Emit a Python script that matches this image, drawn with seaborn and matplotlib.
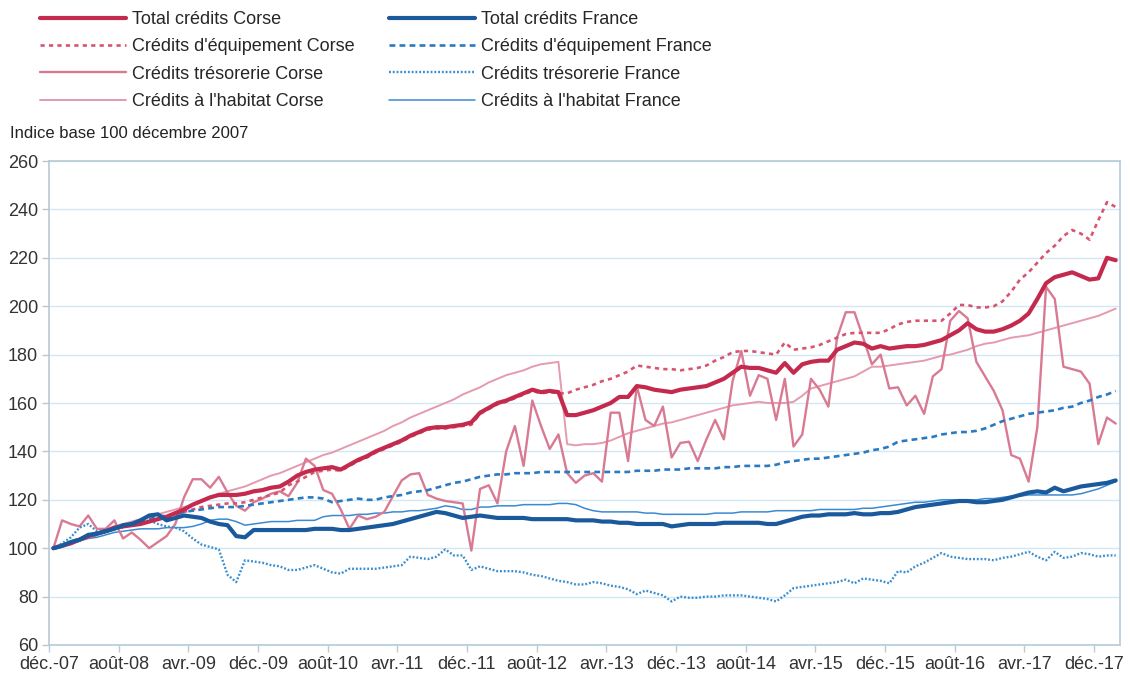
import pandas as pd
import seaborn as sns
import matplotlib.pyplot as plt

# indices base 100 decembre 2007, monthly from dec-07 to feb-18
total_corse = [100, 101, 102, 103.5, 105, 106, 107, 108.5, 109, 109.5,
               110, 111, 112, 113, 114.5, 116, 118, 119.5, 121, 122,
               122, 122, 122.5, 123.5, 124, 125, 125.5, 127.5, 130, 131.5,
               132.5, 133, 133.5, 132.5, 134.5, 136.5, 138, 140, 141.5, 143,
               144.5, 146.5, 148, 149.5, 150, 150, 150.5, 151, 152, 156,
               158, 160, 161, 162.5, 164, 165.5, 164.5, 165, 164.5, 155,
               155, 156, 157, 158.5, 160, 162.5, 162.5, 167, 166.5, 165.5,
               165, 164.5, 165.5, 166, 166.5, 167, 168.5, 170, 172.5, 175,
               174.5, 174.5, 173.5, 172.5, 176.5, 172.5, 176, 177, 177.5, 177.5,
               182, 183.5, 185, 184.5, 182.5, 183.5, 182.5, 183, 183.5, 183.5,
               184, 185, 186, 188, 190, 193, 190.5, 189.5, 189.5, 190.5,
               192, 194, 197, 203, 209.5, 212, 213, 214, 212.5, 211,
               211.5, 220, 219]

equip_corse = [100, 101, 102, 103.5, 104.5, 105.5, 107, 108, 109, 109.5,
               110, 111, 112, 112.5, 113.5, 115, 116, 117, 117.5, 118,
               118.5, 118.5, 119, 120, 121, 122, 123, 126, 127.5, 129.5,
               131.5, 132, 132.5, 132, 134, 136, 137.5, 139.5, 141, 142.5,
               144, 146, 147.5, 149, 149.5, 149.5, 150, 150.5, 151, 155.5,
               157.5, 159.5, 160.5, 162, 163.5, 165, 164, 164.5, 164, 164,
               165.5, 166.5, 167.5, 169, 170, 171.5, 173, 175.5, 175, 174.5,
               174, 174, 173.5, 174, 174.5, 175.5, 177.5, 179, 181, 181.5,
               181.5, 181, 180.5, 180, 185, 182, 182.5, 183, 184, 185.5,
               187, 188.5, 189, 189, 189, 189, 190.5, 192.5, 193.5, 194,
               194, 194, 194, 197, 200.5, 200.5, 199.5, 199.5, 200, 202,
               206, 211, 214, 218, 222, 225, 229, 231.5, 230, 227.5,
               235.5, 243, 241]

treso_corse = [100, 111.5, 110, 109, 113.5, 108, 108, 111.5, 104, 106.5,
               103.5, 100, 102.5, 105, 110, 121, 128.5, 128.5, 125, 129.5,
               123, 117.5, 115.5, 119, 120.5, 122.5, 123.5, 121.5, 127, 137,
               134, 124, 122.5, 116, 108, 113.5, 112, 113, 115, 121.5,
               128, 130.5, 131, 122, 120.5, 119.5, 119, 118.5, 99, 124.5,
               126, 118.5, 140, 150.5, 134, 161, 150.5, 141, 147, 131,
               127, 130, 131, 127.5, 156, 156, 136, 167, 153, 150.5,
               158.5, 137.5, 143.5, 144, 136, 145, 153, 145, 169, 181.5,
               163, 171.5, 170, 153, 170, 142, 147, 170, 165.5, 158.5,
               187, 197.5, 197.5, 187, 176, 180, 166, 166.5, 159, 163,
               155.5, 171, 174, 194, 198, 195, 177, 171, 165, 157,
               138.5, 137, 127.5, 150, 208, 203, 175, 174, 173, 168,
               143, 154, 151.5]

habitat_corse = [100, 101.5, 103, 104, 105.5, 106.5, 107.5, 109, 110, 111,
                 112, 113, 114, 115, 116, 117, 118, 119.5, 121, 122.5,
                 123.5, 124.5, 125.5, 127, 128.5, 130, 131, 132.5, 134, 135.5,
                 137, 138.5, 139.5, 141, 142.5, 144, 145.5, 147, 148.5, 150.5,
                 152, 154, 155.5, 157, 158.5, 160, 161.5, 163.5, 165, 166.5,
                 168.5, 170, 171.5, 172.5, 173.5, 175, 176, 176.5, 177, 143,
                 142.5, 143, 143, 143.5, 144.5, 146, 147.5, 148.5, 149.5, 150.5,
                 151.5, 152, 153, 154, 155, 156, 157, 158, 159, 159.5,
                 160, 160.5, 160, 160, 160, 160.5, 163, 166, 167, 168,
                 169, 170, 171, 173, 175, 175, 175.5, 176, 176.5, 177,
                 177.5, 178.5, 179.5, 180, 181, 182, 183.5, 184.5, 185, 186,
                 187, 187.5, 188, 189, 190, 191, 192, 193, 194, 195,
                 196, 197.5, 199]

total_france = [100, 101, 102.5, 103.5, 105.5, 106, 107, 108, 109.5, 110,
                111.5, 113.5, 114, 111.5, 112.5, 113.5, 113, 112.5, 111, 110,
                109.5, 105, 104.5, 107.5, 107.5, 107.5, 107.5, 107.5, 107.5, 107.5,
                108, 108, 108, 107.5, 107.5, 108, 108.5, 109, 109.5, 110,
                111, 112, 113, 114, 115, 114.5, 113.5, 112.5, 113, 113.5,
                113, 112.5, 112.5, 112.5, 112.5, 112, 112, 112, 112, 112,
                111.5, 111.5, 111.5, 111, 111, 110.5, 110.5, 110, 110, 110,
                110, 109, 109.5, 110, 110, 110, 110, 110.5, 110.5, 110.5,
                110.5, 110.5, 110, 110, 111, 112, 113, 113.5, 113.5, 114,
                114, 114, 114.5, 114, 114, 114.5, 114.5, 115, 116, 117,
                117.5, 118, 118.5, 119, 119.5, 119.5, 119, 119, 119.5, 120,
                121, 122, 123, 123.5, 123, 125, 123.5, 124.5, 125.5, 126,
                126.5, 127, 128]

equip_france = [100, 101, 102.5, 104, 105, 106.5, 107.5, 108.5, 109.5, 110,
                111, 112, 113, 113.5, 114, 115, 115.5, 116, 116.5, 117,
                117, 117, 117.5, 118, 118.5, 119, 119.5, 120, 120.5, 121,
                121, 120.5, 119, 119.5, 120, 120.5, 120, 120, 121, 121.5,
                122, 123, 123.5, 124, 125, 126, 127, 127.5, 128.5, 129.5,
                130, 130.5, 130.5, 131, 131, 131, 131.5, 131.5, 131.5, 131.5,
                131.5, 131.5, 131.5, 131.5, 131.5, 131.5, 131.5, 132, 132, 132,
                132.5, 132.5, 132.5, 133, 133, 133, 133, 133.5, 133.5, 134,
                134, 134, 134, 134.5, 135.5, 136, 136.5, 137, 137, 137.5,
                138, 138.5, 139, 139.5, 140.5, 141, 142, 144, 144.5, 145,
                145.5, 146, 147, 147.5, 148, 148, 148.5, 149.5, 151, 152.5,
                153.5, 154.5, 155.5, 156, 156.5, 157, 158, 158.5, 160, 161,
                162.5, 163.5, 165]

treso_france = [100, 102, 104.5, 108.5, 110, 107, 106.5, 108, 108.5, 110,
                110.5, 111.5, 110, 109, 108.5, 107, 104, 101.5, 100.5, 99.5,
                89, 86, 95, 94.5, 94, 93, 92.5, 91, 91, 92,
                93, 91.5, 90, 89.5, 91.5, 91.5, 91.5, 91.5, 92, 92.5,
                93, 96.5, 96, 95.5, 96.5, 99.5, 97, 97, 91, 92.5,
                91.5, 90.5, 90.5, 90.5, 90, 89, 88.5, 87.5, 86.5, 86,
                85, 85, 86, 85.5, 84.5, 84, 83, 81, 82.5, 81.5,
                80.5, 78, 80, 79.5, 79.5, 80, 80, 80.5, 80.5, 80.5,
                80, 79.5, 79, 78, 80.5, 83.5, 84, 84.5, 85, 85.5,
                86, 87, 85.5, 87.5, 87, 86.5, 85.5, 90.5, 90, 92.5,
                94, 96, 98, 96.5, 96, 95.5, 95.5, 95.5, 95, 96,
                96.5, 97.5, 98.5, 96.5, 95, 98.5, 96, 96.5, 98, 97.5,
                96.5, 97, 97]

habitat_france = [100, 101, 102, 103, 104, 104.5, 105.5, 106.5, 107, 107.5,
                  108, 108, 108, 108.5, 108.5, 108.5, 109, 110, 111.5, 112,
                  112, 111, 109.5, 110, 110.5, 111, 111, 111, 111.5, 111.5,
                  111.5, 113, 113.5, 113.5, 113.5, 114, 114, 114.5, 114.5, 115,
                  115, 115.5, 115.5, 116, 116.5, 117.5, 117, 116, 116, 117,
                  117, 117.5, 117.5, 117.5, 118, 118, 118, 118, 118.5, 118.5,
                  118, 116.5, 115.5, 115, 115, 115, 115, 115, 114.5, 114.5,
                  114, 114, 114, 114, 114, 114, 114.5, 114.5, 114.5, 115,
                  115, 115, 115, 115.5, 115.5, 115.5, 115.5, 115.5, 116, 116,
                  116, 116, 116, 116.5, 116.5, 117, 117.5, 118, 118.5, 119,
                  119, 119.5, 120, 120, 120, 120, 120, 120.5, 120.5, 121,
                  121.5, 121.5, 122, 122, 122, 122, 122, 122, 122.5, 123.5,
                  124.5, 126, 127.5]

tick_labels = ["déc.-07", "août-08", "avr.-09", "déc.-09", "août-10", "avr.-11",
               "déc.-11", "août-12", "avr.-13", "déc.-13", "août-14", "avr.-15",
               "déc.-15", "août-16", "avr.-17", "déc.-17"]

series_names = ["Total crédits Corse", "Crédits d'équipement Corse",
                "Crédits trésorerie Corse", "Crédits à l'habitat Corse",
                "Total crédits France", "Crédits d'équipement France",
                "Crédits trésorerie France", "Crédits à l'habitat France"]
series_values = [total_corse, equip_corse, treso_corse, habitat_corse,
                 total_france, equip_france, treso_france, habitat_france]

styles = {
    "Total crédits Corse": dict(color="#C42A4E", lw=3.0, ls="-", z=6),
    "Crédits d'équipement Corse": dict(color="#D8546F", lw=1.9, ls=(0, (1.6, 1.6)), z=5),
    "Crédits trésorerie Corse": dict(color="#D97A93", lw=1.7, ls="-", z=4),
    "Crédits à l'habitat Corse": dict(color="#E69AAD", lw=1.4, ls="-", z=3),
    "Total crédits France": dict(color="#1A5A9C", lw=3.0, ls="-", z=6),
    "Crédits d'équipement France": dict(color="#2A7AC2", lw=1.9, ls=(0, (2.2, 1.6)), z=5),
    "Crédits trésorerie France": dict(color="#3A8ED0", lw=1.7, ls=(0, (0.8, 0.8)), z=4),
    "Crédits à l'habitat France": dict(color="#3A8AD2", lw=1.1, ls="-", z=3),
}

sns.set_style("white")
plt.rcParams["font.family"] = ["Liberation Sans", "DejaVu Sans"]

fig = plt.figure(figsize=(11.3, 6.78), dpi=100)
ax = fig.add_axes([0.0434, 0.0487, 0.9478, 0.7138])

for name, vals in zip(series_names, series_values):
    st = styles[name]
    sns.lineplot(x=list(range(len(vals))), y=vals, ax=ax, color=st["color"],
                 linewidth=st["lw"], linestyle=st["ls"], label=name, zorder=st["z"])

ax.set_xlim(-0.5, len(total_corse) - 0.5)
ax.set_ylim(60, 260)
ax.set_yticks(range(60, 261, 20))
ax.set_xticks([8 * k - 0.5 for k in range(len(tick_labels))])
ax.set_xticklabels(tick_labels)
ax.set_xlabel("")
ax.set_ylabel("")
ax.grid(axis="y", color="#D2E8F5", lw=1)
ax.set_axisbelow(True)
for sp in ax.spines.values():
    sp.set_color("#B7CAD6")
    sp.set_linewidth(1.2)
ax.tick_params(axis="both", labelsize=13, labelcolor="#333333", color="#B7CAD6",
               length=5, width=1, bottom=True, left=True, pad=3)

handles, labels = ax.get_legend_handles_labels()
ax.get_legend().remove()
fig.legend(handles, labels, ncol=2, loc="upper left", bbox_to_anchor=(0.035, 0.984),
           frameon=False, fontsize=13, handlelength=4.8, handletextpad=0.3,
           columnspacing=1.9, labelspacing=0.58, borderpad=0, borderaxespad=0)

fig.text(10 / 1130, 1 - 134 / 678, "Indice base 100 décembre 2007", fontsize=12,
         va="center", ha="left", color="#222222")

fig.savefig("out.png", dpi=100)
